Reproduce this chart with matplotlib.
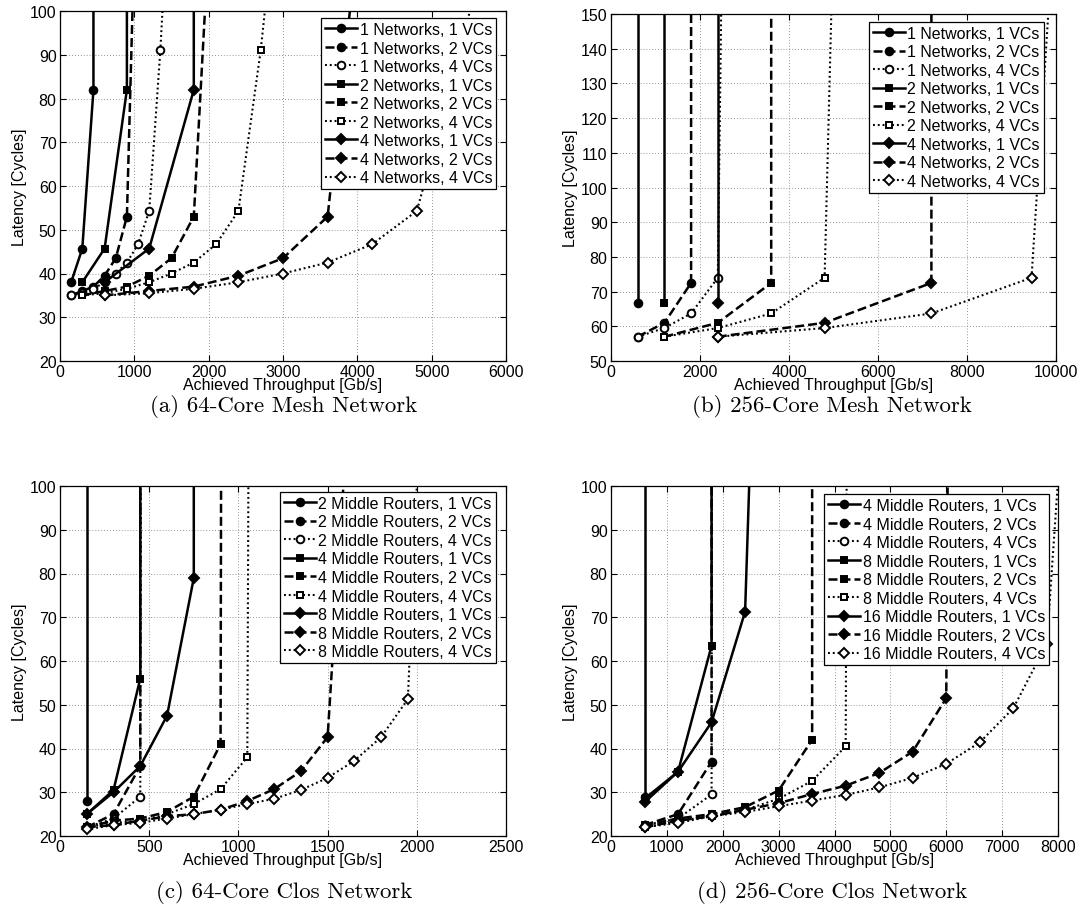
import matplotlib
matplotlib.use("Agg")
import matplotlib.pyplot as plt

plt.rcParams['font.family'] = ['Liberation Sans', 'DejaVu Sans']

# ---------------- (a) 64-core mesh network ----------------
mesh64_labels = ["1 Networks, 1 VCs", "1 Networks, 2 VCs", "1 Networks, 4 VCs",
                 "2 Networks, 1 VCs", "2 Networks, 2 VCs", "2 Networks, 4 VCs",
                 "4 Networks, 1 VCs", "4 Networks, 2 VCs", "4 Networks, 4 VCs"]
mesh64_x = [
    [150, 300, 450, 450],
    [150, 300, 450, 600, 750, 900, 1050],
    [150, 300, 450, 600, 750, 900, 1050, 1200, 1350, 1500],
    [300, 600, 900, 900],
    [300, 600, 900, 1200, 1500, 1800, 2100],
    [300, 600, 900, 1200, 1500, 1800, 2100, 2400, 2700, 3000],
    [600, 1200, 1800, 1800],
    [600, 1200, 1800, 2400, 3000, 3600, 4200],
    [600, 1200, 1800, 2400, 3000, 3600, 4200, 4800, 5400, 6000],
]
mesh64_y = [
    [38, 45.7, 82, 250],
    [35, 36, 37, 39.5, 43.5, 53, 147],
    [35, 35.5, 36.5, 38, 40, 42.5, 46.7, 54.3, 91, 139],
    [38, 45.7, 82, 250],
    [35, 36, 37, 39.5, 43.5, 53, 147],
    [35, 35.5, 36.5, 38, 40, 42.5, 46.7, 54.3, 91, 139],
    [38, 45.7, 82, 250],
    [35, 36, 37, 39.5, 43.5, 53, 147],
    [35, 35.5, 36.5, 38, 40, 42.5, 46.7, 54.3, 91, 139],
]

# ---------------- (b) 256-core mesh network ----------------
mesh256_labels = mesh64_labels
mesh256_x = [
    [600, 600],
    [600, 1200, 1800, 1800],
    [600, 1200, 1800, 2400, 2500],
    [1200, 1200],
    [1200, 2400, 3600, 3600],
    [1200, 2400, 3600, 4800, 5000],
    [2400, 2400],
    [2400, 4800, 7200, 7200],
    [2400, 4800, 7200, 9450, 9950],
]
mesh256_y = [
    [66.7, 250],
    [57, 61, 72.5, 250],
    [57, 59.5, 63.7, 74, 175],
    [66.7, 250],
    [57, 61, 72.5, 250],
    [57, 59.5, 63.7, 74, 175],
    [66.7, 250],
    [57, 61, 72.5, 250],
    [57, 59.5, 63.7, 74, 175],
]

# ---------------- (c) 64-core Clos network ----------------
clos64_labels = ["2 Middle Routers, 1 VCs", "2 Middle Routers, 2 VCs", "2 Middle Routers, 4 VCs",
                 "4 Middle Routers, 1 VCs", "4 Middle Routers, 2 VCs", "4 Middle Routers, 4 VCs",
                 "8 Middle Routers, 1 VCs", "8 Middle Routers, 2 VCs", "8 Middle Routers, 4 VCs"]
clos64_x = [
    [150, 150],
    [150, 300, 450, 450],
    [150, 300, 450, 460],
    [150, 300, 450, 450],
    [150, 300, 450, 600, 750, 900, 910],
    [150, 300, 450, 600, 750, 900, 1050, 1070],
    [150, 300, 450, 600, 750, 750],
    [150, 300, 450, 600, 750, 900, 1050, 1200, 1350, 1500, 1650],
    [150, 300, 450, 600, 750, 900, 1050, 1200, 1350, 1500, 1650, 1800, 1950, 2100],
]
clos64_y = [
    [28, 250],
    [22, 25, 36, 250],
    [22, 24, 29, 250],
    [25, 30.5, 56, 250],
    [22, 23.5, 24, 25.5, 29, 41, 250],
    [22, 23, 23.5, 25, 27.3, 30.7, 38, 250],
    [25, 30, 36, 47.5, 79, 250],
    [22, 22.5, 23.5, 24.5, 25, 26, 28, 30.7, 34.8, 42.6, 140],
    [21.5, 22.5, 23, 24, 25, 26, 27.3, 28.5, 30.5, 33.3, 37.2, 42.6, 51.3, 197],
]

# ---------------- (d) 256-core Clos network ----------------
clos256_labels = ["4 Middle Routers, 1 VCs", "4 Middle Routers, 2 VCs", "4 Middle Routers, 4 VCs",
                  "8 Middle Routers, 1 VCs", "8 Middle Routers, 2 VCs", "8 Middle Routers, 4 VCs",
                  "16 Middle Routers, 1 VCs", "16 Middle Routers, 2 VCs", "16 Middle Routers, 4 VCs"]
clos256_x = [
    [600, 600],
    [600, 1200, 1800, 1800],
    [600, 1200, 1800, 1820],
    [600, 1200, 1800, 1800],
    [600, 1200, 1800, 2400, 3000, 3600, 3600],
    [600, 1200, 1800, 2400, 3000, 3600, 4200, 4260],
    [600, 1200, 1800, 2400, 2600],
    [600, 1200, 1800, 2400, 3000, 3600, 4200, 4800, 5400, 6000, 6100],
    [600, 1200, 1800, 2400, 3000, 3600, 4200, 4800, 5400, 6000, 6600, 7200, 7800, 8100],
]
clos256_y = [
    [29, 250],
    [22.5, 25, 37, 250],
    [22.5, 24, 29.5, 250],
    [28.5, 34.7, 63.5, 250],
    [22.5, 24, 25, 26.6, 30.4, 42, 250],
    [22, 23.5, 24.5, 26, 28.5, 32.6, 40.5, 250],
    [27.7, 34.7, 46, 71.3, 150],
    [22, 23.5, 24.5, 26, 27.5, 29.6, 31.5, 34.4, 39.3, 51.5, 250],
    [22, 23, 24.5, 25.5, 26.8, 28.1, 29.4, 31.1, 33.3, 36.5, 41.4, 49.2, 64, 120],
]

MARKERS = ['o', 's', 'D']
MSIZE = {'o': 5.5, 's': 5.0, 'D': 5.0}
LINESTYLES = ['-', (0, (3.6, 1.6)), (0, (0.9, 1.4))]

W, H = 1084, 920
fig = plt.figure(figsize=(W / 100, H / 100), dpi=100)


def px_axes(left, top, right, bottom):
    return fig.add_axes([left / W, 1 - bottom / H, (right - left) / W, (bottom - top) / H])


def draw_panel(rect, labels, xs, ys, xlim, ylim, xticks, yticks, legend_anchor, caption, cap_xy):
    ax = px_axes(*rect)
    for i, (lab, x, y) in enumerate(zip(labels, xs, ys)):
        m = MARKERS[i // 3]
        vc = i % 3
        ax.plot(x, y, color='k', linestyle=LINESTYLES[vc],
                lw=1.8 if vc < 2 else 1.5,
                marker=m, ms=MSIZE[m], mec='k', mew=1.4,
                mfc='k' if vc < 2 else 'w', label=lab)
    ax.set_xlim(*xlim)
    ax.set_ylim(*ylim)
    ax.set_xticks(xticks)
    ax.set_yticks(yticks)
    ax.grid(True, color='0.45', linestyle=(0, (1, 2.5)), linewidth=0.6)
    ax.tick_params(direction='in', top=True, right=True, length=4, width=0.8,
                   labelsize=11.5, pad=2.5)
    for s in ax.spines.values():
        s.set_linewidth(0.9)
    ax.set_xlabel("Achieved Throughput [Gb/s]", fontsize=11.5, labelpad=-1.5)
    ax.set_ylabel("Latency [Cycles]", fontsize=11.5, labelpad=2)
    leg = ax.legend(loc='upper right', bbox_to_anchor=legend_anchor, borderaxespad=0,
                    fontsize=11.5, fancybox=False, framealpha=1, edgecolor='k',
                    borderpad=0.25, labelspacing=0.22, handlelength=2.0,
                    handletextpad=0.15, numpoints=1)
    leg.get_frame().set_linewidth(0.9)
    fig.text(cap_xy[0] / W, 1 - cap_xy[1] / H, caption, ha='center', va='center',
             fontsize=16.5, family='cmr10')
    return ax


draw_panel((60, 12, 506, 362), mesh64_labels, mesh64_x, mesh64_y,
           (0, 6000), (20, 100), range(0, 6001, 1000), range(20, 101, 10),
           (0.978, 0.98), "(a) 64-Core Mesh Network", (284, 407))
draw_panel((611, 15, 1056, 362), mesh256_labels, mesh256_x, mesh256_y,
           (0, 10000), (50, 150), range(0, 10001, 2000), range(50, 151, 10),
           (0.973, 0.978), "(b) 256-Core Mesh Network", (832, 407))
draw_panel((60, 487, 506, 837), clos64_labels, clos64_x, clos64_y,
           (0, 2500), (20, 100), range(0, 2501, 500), range(20, 101, 10),
           (0.978, 0.983), "(c) 64-Core Clos Network", (284, 893))
draw_panel((611, 487, 1058, 837), clos256_labels, clos256_x, clos256_y,
           (0, 8000), (20, 100), range(0, 8001, 1000), range(20, 101, 10),
           (0.98, 0.977), "(d) 256-Core Clos Network", (832, 893))

fig.savefig("out.png", dpi=100, facecolor='white')
